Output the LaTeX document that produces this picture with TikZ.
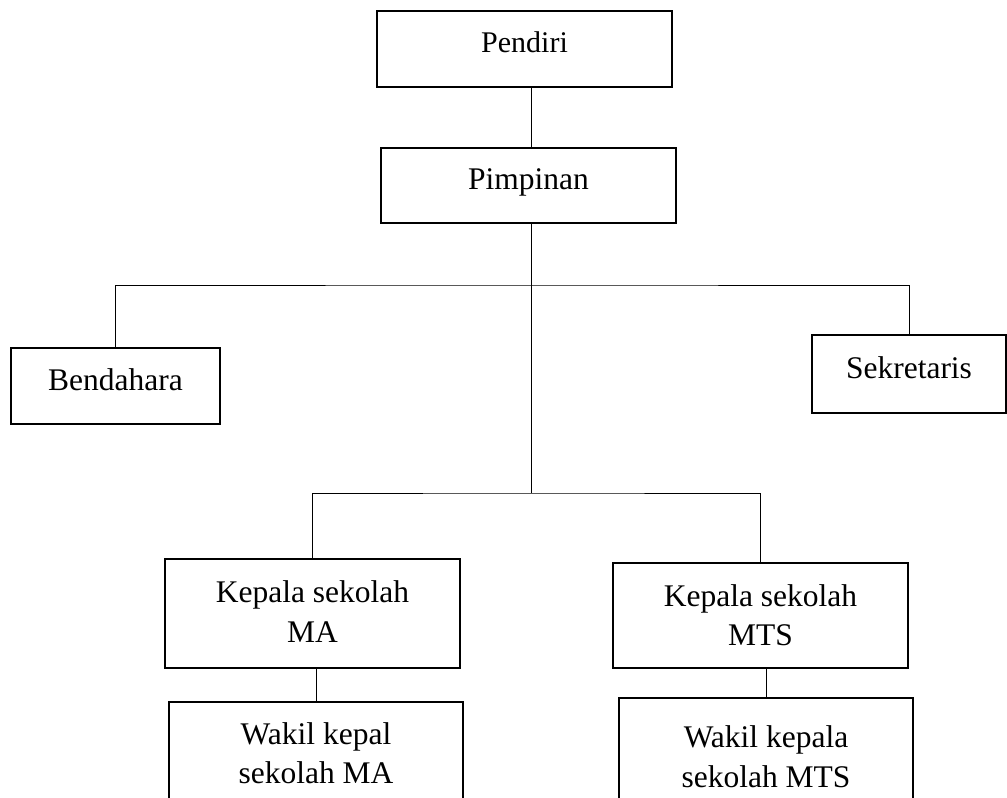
\documentclass[tikz,border=0pt]{standalone}
\usepackage{fontspec}
\setmainfont{Liberation Serif}
\begin{document}
\begin{tikzpicture}[x=1pt,y=-1pt,
  orgbox/.style={draw=black,line width=1.8pt,rectangle,inner sep=0pt,align=center,
    font=\fontsize{31.5}{39.5}\selectfont},
  link/.style={draw=black,line width=1pt}]
\useasboundingbox (0,0) rectangle (1007,798);
\clip (0,0) rectangle (1007,798);
\fill[white] (0,0) rectangle (1007,798);

\node[orgbox,minimum width=295,minimum height=76,text depth=14pt,
  font=\fontsize{30}{37}\selectfont] (pendiri) at (524.5,49) {Pendiri};
\node[orgbox,minimum width=295,minimum height=75,text depth=12.5pt] (pimpinan) at (528.5,185.5) {Pimpinan};
\node[orgbox,minimum width=209,minimum height=76,text depth=13.5pt] (bendahara) at (115.5,386) {Bendahara};
\node[orgbox,minimum width=194,minimum height=78,text depth=13.5pt] (sekretaris) at (909,374) {Sekretaris};
\node[orgbox,minimum width=295,minimum height=109,text depth=4pt] (kepMA) at (312.5,613.5) {Kepala sekolah\\MA};
\node[orgbox,minimum width=295,minimum height=105,text depth=1pt] (kepMTS) at (760.5,615.5) {Kepala sekolah\\MTS};
\node[orgbox,minimum width=294,minimum height=113,text depth=11pt] (wakMA) at (316,758.5) {Wakil kepal\\sekolah MA};
\node[orgbox,minimum width=294,minimum height=117,text depth=0pt] (wakMTS) at (766,756.5) {Wakil kepala\\sekolah MTS};

\coordinate (j1) at (531,285);
\coordinate (j2) at (531,493);

\draw[link] (pendiri.south -| j1) -- (pimpinan.north -| j1);
\draw[link] (pimpinan.south -| j1) -- (j1);
\draw[link] (bendahara.north) |- (j1) -| (sekretaris.north);
\draw[link] (j1) -- (j2);
\draw[link] (kepMA.north) |- (j2) -| (kepMTS.north);
\draw[link] (kepMA.south -| wakMA.north) -- (wakMA.north);
\draw[link] (kepMTS.south -| wakMTS.north) -- (wakMTS.north);
\end{tikzpicture}
\end{document}
